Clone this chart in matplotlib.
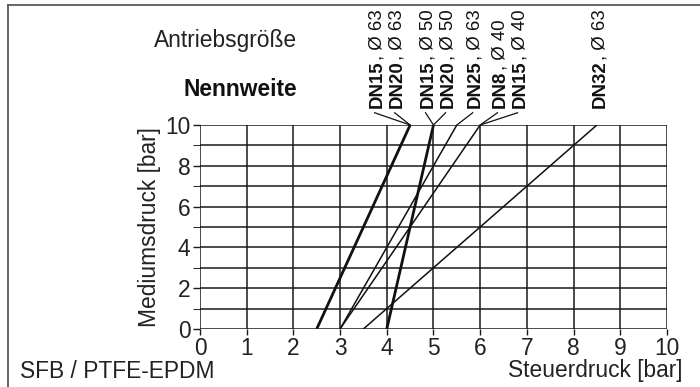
import numpy as np
import matplotlib
matplotlib.use('Agg')
import matplotlib.pyplot as plt
from matplotlib.lines import Line2D

plt.rcParams['font.family'] = ['Liberation Sans', 'DejaVu Sans']

# --- Daten ---
# Kennlinien: Steuerdruck bei Mediumsdruck 0 bar und 10 bar
medium = [0, 10]
steuer_start = [2.5, 4.0, 3.0, 3.0, 3.5]
steuer_end = [4.5, 5.0, 5.5, 6.0, 8.5]
thick = [True, True, False, False, False]

# Beschriftungen (Nennweite fett, Antriebsgröße normal)
dn_labels = ['DN15', 'DN20', 'DN15', 'DN20', 'DN25', 'DN8', 'DN15', 'DN32']
drive_labels = [', Ø 63', ', Ø 63', ', Ø 50', ', Ø 50', ', Ø 63', ', Ø 40', ', Ø 40', ', Ø 63']
label_x = [3.79, 4.22, 4.88, 5.31, 5.89, 6.42, 6.85, 8.57]
label_curve = [0, 0, 1, 1, 2, 3, 3, None]   # Hinweislinie zu welcher Kennlinie

FS = 16.4
ROT_FS = 13.4

fig = plt.figure(figsize=(7, 3.87), dpi=100)
ax = fig.add_axes([0.2857, 0.150, 0.6671, 0.527])

ax.set_xlim(0, 10)
ax.set_ylim(0, 10)
ax.set_xticks(range(0, 11))
ax.set_yticks(range(0, 11, 2))
ax.set_yticks(range(1, 11, 2), minor=True)
ax.grid(True, which='both', color='#1a1a1a', linewidth=1.1)
for s in ax.spines.values():
    s.set_visible(False)
ax.tick_params(axis='both', labelsize=FS, color='#1a1a1a', width=1.0, pad=2,
               labelcolor='#222222')
ax.tick_params(axis='y', which='both', length=5)
ax.tick_params(axis='x', length=4)
ax.set_axisbelow(True)

for a, b, t in zip(steuer_start, steuer_end, thick):
    ax.plot([a, b], medium, color='#111111', lw=2.0 if t else 1.1,
            solid_capstyle='butt')

# Beschriftungen oben, senkrecht: fetter Teil + normaler Teil
fig.canvas.draw()
renderer = fig.canvas.get_renderer()
for dn, dr, lx, c in zip(dn_labels, drive_labels, label_x, label_curve):
    t1 = ax.text(lx, 10.85, dn, rotation=90, ha='center', va='bottom',
                 fontsize=ROT_FS, fontweight='bold', color='#111111',
                 clip_on=False)
    h = t1.get_window_extent(renderer).height * 72 / fig.dpi
    ax.annotate(dr, xy=(lx, 10.85), xytext=(0, h), textcoords='offset points',
                rotation=90, ha='center', va='bottom', fontsize=ROT_FS,
                color='#111111', annotation_clip=False)
    if c is not None:
        ax.plot([lx - 0.05, steuer_end[c]], [10.6, 10], color='#111111',
                lw=0.9, clip_on=False)

ax.set_ylabel('Mediumsdruck [bar]', fontsize=FS, labelpad=3, color='#222222')

fig.text(0.975, 0.042, 'Steuerdruck [bar]', ha='right', va='center', fontsize=FS,
         color='#222222')
fig.text(0.028, 0.040, 'SFB / PTFE-EPDM', ha='left', va='center', fontsize=FS,
         color='#222222')
fig.text(0.424, 0.895, 'Antriebsgröße', ha='right', va='center', fontsize=FS,
         color='#222222')
fig.text(0.424, 0.768, 'Nennweite', ha='right', va='center', fontsize=FS,
         fontweight='bold', color='#111111')

# Rahmen oben und links
fig.add_artist(Line2D([0.012, 1.0], [0.987, 0.987], color='#5a5a5a', lw=1.3,
                      transform=fig.transFigure))
fig.add_artist(Line2D([0.012, 0.012], [0.0, 0.987], color='#5a5a5a', lw=1.3,
                      transform=fig.transFigure))

fig.savefig('out.png', dpi=100)
